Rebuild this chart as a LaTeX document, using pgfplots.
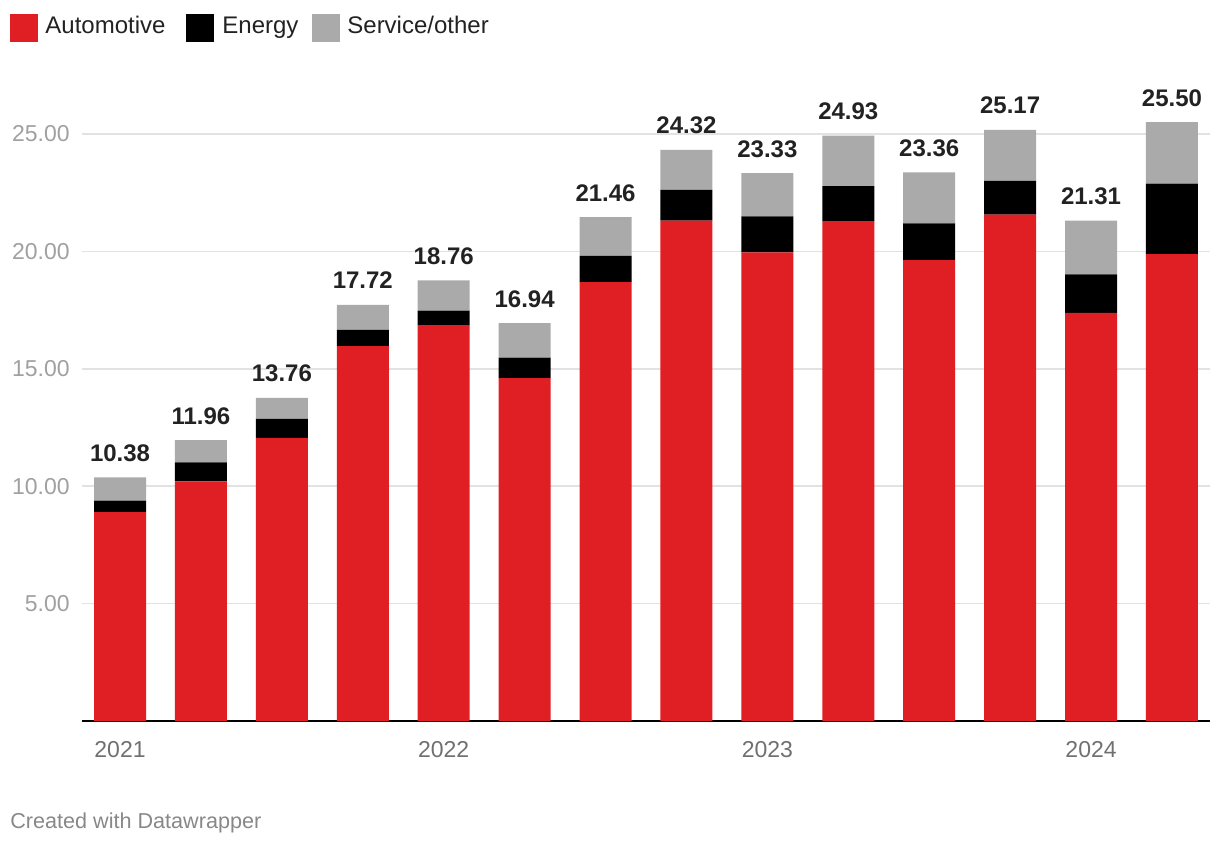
\documentclass[border=0pt]{standalone}
\usepackage{fontspec}
\setmainfont{Liberation Sans}
\usepackage{pgfplots}
\usepackage{pgfplotstable}
\pgfplotsset{compat=1.18}
\definecolor{autored}{RGB}{224,31,37}
\definecolor{svcgray}{RGB}{170,170,170}
\definecolor{gridgray}{RGB}{226,226,226}
\definecolor{ytickgray}{RGB}{160,160,160}
\definecolor{xtickgray}{RGB}{112,112,112}
\definecolor{foot}{RGB}{136,136,136}
\definecolor{labtext}{RGB}{34,34,34}
\pgfplotstableread{
i auto energy service total
0 8.90 0.49 0.99 10.38
1 10.21 0.80 0.95 11.96
2 12.06 0.81 0.89 13.76
3 15.97 0.69 1.06 17.72
4 16.86 0.62 1.28 18.76
5 14.60 0.87 1.47 16.94
6 18.69 1.12 1.65 21.46
7 21.31 1.31 1.70 24.32
8 19.96 1.53 1.84 23.33
9 21.27 1.51 2.15 24.93
10 19.63 1.56 2.17 23.36
11 21.56 1.44 2.17 25.17
12 17.38 1.64 2.29 21.31
13 19.88 3.01 2.61 25.50
}\datatable
\pgfplotsset{
  commonaxis/.style={
    at={(41pt,-360.5pt)}, anchor=south west,
    scale only axis, width=564pt, height=317pt,
    xmin=-0.47, xmax=13.47, ymin=0, ymax=27,
    clip=false,
  }
}
\begin{document}
\begin{tikzpicture}
\path[use as bounding box] (0pt,0pt) rectangle (610pt,-423pt);
\begin{axis}[
  commonaxis,
  ybar stacked, bar width=26pt,
  axis x line*=bottom, axis y line*=left,
  x axis line style={black, line width=1pt},
  y axis line style={draw=none},
  xtick={0,4,8,12}, xticklabels={2021,2022,2023,2024},
  major tick length=0pt,
  /pgf/number format/assume math mode=true,
  xticklabel style={font=\fontsize{11.5}{13}\selectfont, text=xtickgray, anchor=base, inner sep=0pt, yshift=-18pt},
  ytick={5,10,15,20,25},
  ymajorgrids, grid style={gridgray, line width=0.75pt},
  yticklabel style={font=\fontsize{11.5}{13}\selectfont, text=ytickgray, anchor=east, inner sep=0pt, xshift=-6pt},
  yticklabel={\pgfmathprintnumber[fixed, fixed zerofill, precision=2, assume math mode=true]{\tick}},
  every axis plot/.append style={draw=none},
]
\addplot[fill=autored] table[x=i, y=auto] {\datatable};
\addplot[fill=black] table[x=i, y=energy] {\datatable};
\addplot[fill=svcgray] table[x=i, y=service] {\datatable};
\end{axis}
\begin{axis}[commonaxis, hide axis]
\addplot[draw=none, mark=none,
  nodes near coords={\pgfmathprintnumber[fixed, fixed zerofill, precision=2, assume math mode=true]{\pgfplotspointmeta}},
  point meta=explicit,
  every node near coord/.style={font=\bfseries\fontsize{12}{13}\selectfont, text=labtext, anchor=base, inner sep=0pt, yshift=8pt}
] table[x=i, y=total, meta=total] {\datatable};
\end{axis}
% legend
\fill[autored] (5pt,-7pt) rectangle (19pt,-21pt);
\node[anchor=base west, inner sep=0pt, text=labtext, font=\fontsize{12}{13}\selectfont] at (22.5pt,-16.5pt) {Automotive};
\fill[black] (93pt,-7pt) rectangle (107pt,-21pt);
\node[anchor=base west, inner sep=0pt, text=labtext, font=\fontsize{12}{13}\selectfont] at (111pt,-16.5pt) {Energy};
\fill[svcgray] (156pt,-7pt) rectangle (170pt,-21pt);
\node[anchor=base west, inner sep=0pt, text=labtext, font=\fontsize{12}{13}\selectfont] at (173.5pt,-16.5pt) {Service/other};
\node[anchor=base west, inner sep=0pt, text=foot, font=\fontsize{10.8}{13}\selectfont] at (5pt,-414pt) {Created with Datawrapper};
\end{tikzpicture}
\end{document}
